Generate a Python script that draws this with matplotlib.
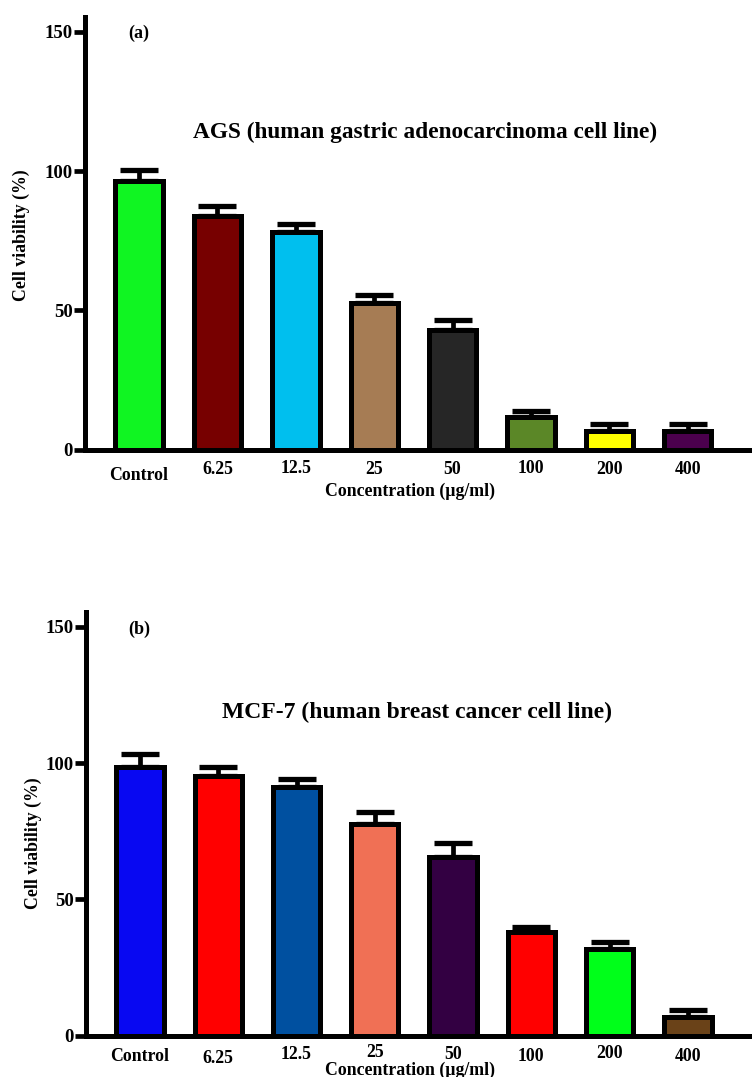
import matplotlib
matplotlib.use("Agg")
import matplotlib.pyplot as plt
from matplotlib.transforms import ScaledTranslation

plt.rcParams['font.family'] = ['Liberation Serif', 'DejaVu Serif']
plt.rcParams['font.weight'] = 'bold'

categories = ["Control", "6.25", "12.5", "25", "50", "100", "200", "400"]

ags_values = [96.6, 84.0, 78.3, 52.8, 43.1, 11.7, 6.7, 6.7]
ags_errors = [3.8, 3.3, 2.7, 2.7, 3.4, 2.3, 2.5, 2.5]
ags_colors = ["#10F522", "#770000", "#00BFEE", "#A67C54", "#262626",
              "#5B8727", "#FFFF00", "#4B004D"]

mcf_values = [98.4, 95.1, 91.3, 77.8, 65.6, 37.9, 31.7, 6.7]
mcf_errors = [4.9, 3.3, 2.9, 4.4, 5.1, 2.1, 2.5, 2.8]
mcf_colors = ["#0808F2", "#FF0000", "#0050A0", "#F07055", "#330042",
              "#FF0000", "#00FF1A", "#6A4218"]

yticks = [0, 50, 100, 150]

W, H = 752, 1077
fig = plt.figure(figsize=(W / 100, H / 100), dpi=100)


def make_panel(rect, values, errors, colors, ylim_top, letter, title,
               title_xy, title_size, letter_xy, xlabel_y, ylabel_xy, label_dy):
    ax = fig.add_axes(rect)
    x = list(range(len(categories)))
    ax.bar(x, values, width=0.605, color=colors, edgecolor="black",
           linewidth=3.6, zorder=2)
    ax.errorbar(x, values, yerr=[[0] * len(errors), errors], fmt="none",
                ecolor="black", elinewidth=3.4, capsize=13.5, capthick=3.8,
                zorder=1)
    ax.set_xlim(-0.69, 7.82)
    ax.set_ylim(0, ylim_top)
    ax.set_yticks(yticks)
    ax.set_yticklabels([str(v) for v in yticks], fontsize=13.5,
                       fontweight="bold")
    ax.set_xticks(x)
    ax.set_xticklabels(categories, fontsize=12.8, fontweight="bold")
    for sp in ["top", "right"]:
        ax.spines[sp].set_visible(False)
    for sp in ["left", "bottom"]:
        ax.spines[sp].set_linewidth(3.6)
    ax.tick_params(axis="y", length=8, width=3.4, pad=1)
    ax.tick_params(axis="x", length=0, pad=8)
    for lab, dy in zip(ax.get_xticklabels(), label_dy):
        lab.set_transform(lab.get_transform() +
                          ScaledTranslation(0, -dy / 100, fig.dpi_scale_trans))
    fig.text(410 / W, 1 - xlabel_y / H, "Concentration (µg/ml)",
             fontsize=12.8, fontweight="bold", ha="center", va="center")
    fig.text(ylabel_xy[0] / W, 1 - ylabel_xy[1] / H, "Cell viability (%)",
             fontsize=12.8, fontweight="bold", rotation=90,
             ha="center", va="center")
    fig.text(title_xy[0] / W, 1 - title_xy[1] / H, title, fontsize=title_size,
             fontweight="bold", ha="center", va="center")
    fig.text(letter_xy[0] / W, 1 - letter_xy[1] / H, letter, fontsize=13,
             fontweight="bold", ha="center", va="center")
    return ax


# top panel: x-axis at y=449.5, axis top at 17
axA = make_panel([85 / W, 1 - 449.5 / H, 1 - 85 / W, (449.5 - 17) / H],
                 ags_values, ags_errors, ags_colors, (449.5 - 17) / 2.784,
                 "(a)", "AGS (human gastric adenocarcinoma cell line)",
                 (425, 132), 16.8, (139, 33), 491, (21, 235),
                 [6, 0, -1, 0, 0, -1, 0, 0])

# bottom panel: x-axis at y=1035.7, axis top at 612
axB = make_panel([86 / W, 1 - 1035.7 / H, 1 - 86 / W, (1035.7 - 612) / H],
                 mcf_values, mcf_errors, mcf_colors, (1035.7 - 612) / 2.726,
                 "(b)", "MCF-7 (human breast cancer cell line)",
                 (417, 712), 17.0, (139, 629), 1070, (33, 843),
                 [1, 3, -1, -3, -1, 1, -2, 1])

fig.savefig("out.png", dpi=100)
